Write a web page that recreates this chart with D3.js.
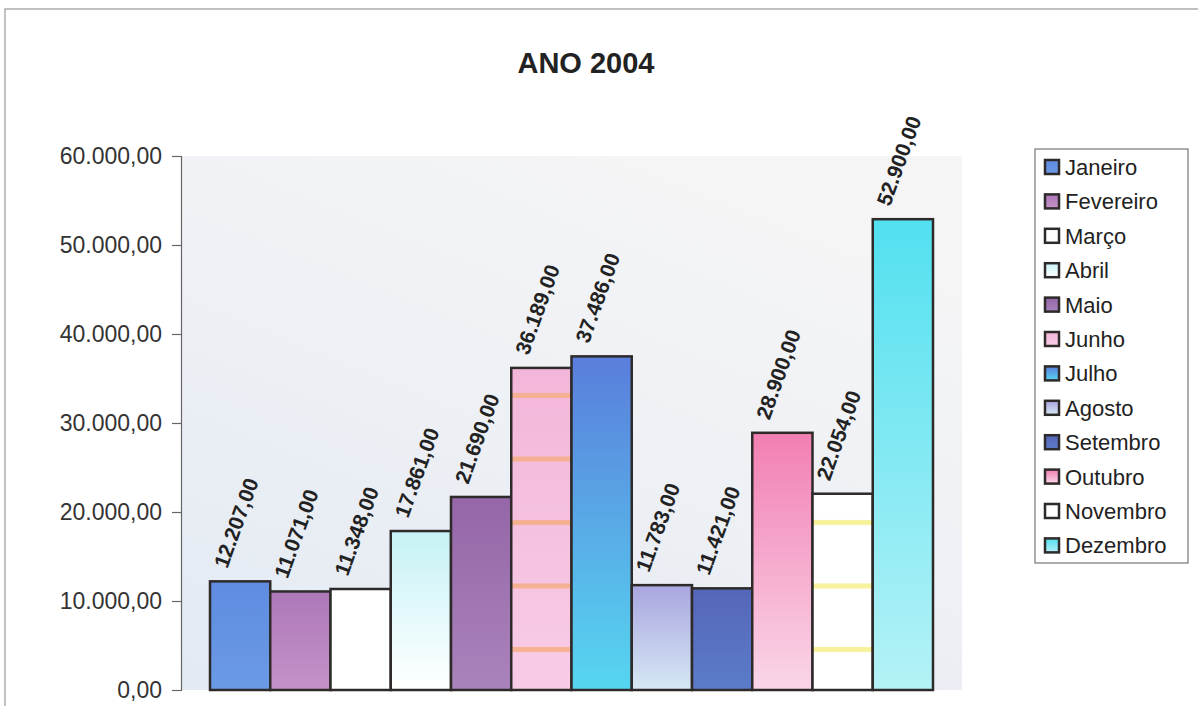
<html>
<head>
<meta charset="utf-8">
<script src="https://cdn.jsdelivr.net/npm/d3@7"></script>
<style>
  body { margin: 0; background: #fff; }
  .tick-label { font-family: "Liberation Sans", Arial, sans-serif; font-size: 23px; fill: #333; }
  .bar-label { font-family: "Liberation Sans", Arial, sans-serif; font-size: 21px; font-weight: bold; fill: #222; }
  .legend-text { font-family: "Liberation Sans", Arial, sans-serif; font-size: 22px; fill: #222; }
  .title { font-family: "Liberation Sans", Arial, sans-serif; font-size: 29px; font-weight: bold; fill: #222; }
</style>
</head>
<body>
<div id="chart"></div>
<script>
// data
const months = ["Janeiro", "Fevereiro", "Março", "Abril", "Maio", "Junho",
                "Julho", "Agosto", "Setembro", "Outubro", "Novembro", "Dezembro"];
const values = [12207, 11071, 11348, 17861, 21690, 36189, 37486, 11783, 11421, 28900, 22054, 52900];
const yTicks = [0, 10000, 20000, 30000, 40000, 50000, 60000];

// top / bottom colours of each bar's gradient
const colorMap = {
  "Janeiro":   ["#5f8ce0", "#6b9ae6"],
  "Fevereiro": ["#ad78b8", "#c592c8"],
  "Março":     ["#ffffff", "#ffffff"],
  "Abril":     ["#c6f2f6", "#ffffff"],
  "Maio":      ["#9566a8", "#a983bc"],
  "Junho":     ["#f3b6da", "#f8cce6"],
  "Julho":     ["#5a7edc", "#56d6f0"],
  "Agosto":    ["#a9a6e0", "#d6e8f4"],
  "Setembro":  ["#5566b8", "#5b7cc8"],
  "Outubro":   ["#f27fb2", "#fad6e8"],
  "Novembro":  ["#ffffff", "#ffffff"],
  "Dezembro":  ["#52e0f0", "#b4f2f6"]
};
const stripeMap = { "Junho": "#f5ad84", "Novembro": "#f6ef8a" };

const W = 1198, H = 706;
const svg = d3.select("#chart").append("svg")
  .attr("width", W).attr("height", H);
const defs = svg.append("defs");

// chart frame (scan shows only top and left edges)
svg.append("rect")
  .attr("x", 5).attr("y", 9).attr("width", 1220).attr("height", 720)
  .attr("fill", "none").attr("stroke", "#999").attr("stroke-width", 1.2);

svg.append("text").attr("class", "title")
  .attr("x", 586).attr("y", 73).attr("text-anchor", "middle")
  .text("ANO 2004");

var x = d3.scaleBand().domain(months).range([210, 933]).padding(0);
var y = d3.scaleLinear().domain([0, 60000]).range([690, 156]);

const locale = d3.formatLocale({decimal: ",", thousands: ".", grouping: [3], currency: ["", ""]});
const fmt = locale.format(",.2f");

// plot area background
const bg = defs.append("linearGradient").attr("id", "bg")
  .attr("x1", 0).attr("y1", 1).attr("x2", 0.6).attr("y2", 0);
bg.append("stop").attr("offset", "0%").attr("stop-color", "#e3eaf3");
bg.append("stop").attr("offset", "100%").attr("stop-color", "#f5f5f6");
svg.append("rect")
  .attr("x", 182).attr("y", y(60000))
  .attr("width", 962 - 182).attr("height", y(0) - y(60000))
  .attr("fill", "url(#bg)");

// y axis
const yAxis = svg.append("g")
  .attr("transform", "translate(181,0)")
  .call(d3.axisLeft(y).tickValues(yTicks).tickFormat(fmt).tickSize(9).tickPadding(10));
yAxis.select(".domain").attr("stroke", "#666").attr("stroke-width", 1.2);
yAxis.selectAll(".tick line").attr("stroke", "#666").attr("stroke-width", 1.2);
yAxis.selectAll(".tick text").attr("class", "tick-label").attr("font-size", null).attr("font-family", null).attr("fill", null);

// gradients
months.forEach((m, i) => {
  const g = defs.append("linearGradient").attr("id", "g" + i)
    .attr("x1", 0).attr("y1", 0).attr("x2", 0).attr("y2", 1);
  g.append("stop").attr("offset", "0%").attr("stop-color", colorMap[m][0]);
  g.append("stop").attr("offset", "100%").attr("stop-color", colorMap[m][1]);
  if (stripeMap[m]) {
    const p = defs.append("pattern").attr("id", "s" + i)
      .attr("patternUnits", "userSpaceOnUse")
      .attr("x", 0).attr("y", 0).attr("width", 60).attr("height", 63.5);
    p.append("rect").attr("x", 0).attr("y", 12).attr("width", 60).attr("height", 5)
      .attr("fill", stripeMap[m]);
  }
});

const bars = svg.selectAll(".bar").data(months).enter().append("g");
bars.append("rect")
  .attr("x", d => x(d)).attr("y", (d, i) => y(values[i]))
  .attr("width", x.bandwidth()).attr("height", (d, i) => y(0) - y(values[i]))
  .attr("fill", (d, i) => "url(#g" + i + ")");
bars.filter(d => stripeMap[d]).append("rect")
  .attr("x", d => x(d)).attr("y", d => y(values[months.indexOf(d)]))
  .attr("width", x.bandwidth()).attr("height", d => y(0) - y(values[months.indexOf(d)]))
  .attr("fill", d => "url(#s" + months.indexOf(d) + ")").attr("opacity", 0.85);
bars.append("rect")
  .attr("x", d => x(d)).attr("y", (d, i) => y(values[i]))
  .attr("width", x.bandwidth()).attr("height", (d, i) => y(0) - y(values[i]))
  .attr("fill", "none").attr("stroke", "#2e2a2a").attr("stroke-width", 2.5);

// value labels
svg.selectAll(".bar-label").data(months).enter().append("text")
  .attr("class", "bar-label")
  .attr("transform", (d, i) => {
    const cx = x(d) + x.bandwidth() / 2 - 13;
    const cy = y(values[i]) - 12;
    return "translate(" + cx + "," + cy + ") rotate(-70)";
  })
  .text((d, i) => fmt(values[i]));

// legend
const lg = svg.append("g");
lg.append("rect")
  .attr("x", 1035).attr("y", 149).attr("width", 153).attr("height", 414)
  .attr("fill", "#fff").attr("stroke", "#777").attr("stroke-width", 1.2);
months.forEach((m, i) => {
  const cy = 167 + i * 34.4;
  lg.append("rect")
    .attr("x", 1045).attr("y", cy - 7).attr("width", 14).attr("height", 14)
    .attr("fill", "url(#g" + i + ")").attr("stroke", "#2e2a2a").attr("stroke-width", 2.5);
  lg.append("text").attr("class", "legend-text")
    .attr("x", 1065).attr("y", cy + 8).text(m);
});
</script>
</body>
</html>
